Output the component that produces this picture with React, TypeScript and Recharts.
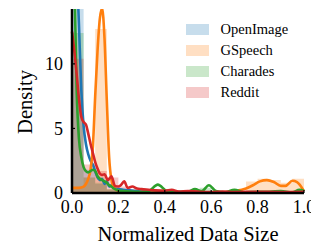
import React from "react";
import { ComposedChart, Area, Line, XAxis, YAxis } from "recharts";

// histogram bins, width 0.05, from 0.0 to 1.0
const binStarts = [0, 0.05, 0.1, 0.15, 0.2, 0.25, 0.3, 0.35, 0.4, 0.45, 0.5, 0.55, 0.6, 0.65, 0.7, 0.75, 0.8, 0.85, 0.9, 0.95];
const openImageBins = [18, 1.8, 0.7, 0.25, 0.15, 0.1, 0.08, 0.06, 0.05, 0.05, 0.05, 0.05, 0.04, 0.04, 0.04, 0.04, 0.04, 0.04, 0.04, 0.04];
const gspeechBins = [0.4, 1.2, 12.7, 0.3, 0.03, 0.03, 0.03, 0.03, 0.03, 0.03, 0.03, 0.03, 0.03, 0.03, 0.1, 0.9, 1.1, 1.0, 0.8, 1.1];
const charadesBins = [12.4, 1.2, 0.8, 0.3, 0.1, 0.1, 0.1, 0.3, 0.1, 0.1, 0.1, 0.4, 0.2, 0.1, 0.1, 0.1, 0.1, 0.1, 0.1, 0.15];
const redditBins = [10.4, 2.2, 1.7, 1.2, 0.5, 0.3, 0.2, 0.2, 0.15, 0.15, 0.1, 0.1, 0.1, 0.1, 0.1, 0.1, 0.1, 0.1, 0.1, 0.1];

// kde curves
const openImageX = [0, 0.01, 0.02, 0.03, 0.04, 0.05, 0.06, 0.07, 0.08, 0.09, 0.1, 0.11, 0.12, 0.13, 0.14, 0.15, 0.16, 0.17, 0.18, 0.2, 0.22, 0.25, 0.3, 0.35, 0.4, 0.5, 0.6, 0.7, 0.8, 0.9, 1.0];
const openImageKde = [30, 24, 18, 13, 8, 5.2, 3.8, 3.0, 2.5, 2.2, 1.7, 1.2, 1.0, 1.1, 0.7, 0.9, 0.5, 0.6, 0.4, 0.3, 0.25, 0.2, 0.12, 0.1, 0.08, 0.06, 0.05, 0.05, 0.05, 0.04, 0.04];

const gspeechX = [0, 0.03, 0.05, 0.06, 0.07, 0.08, 0.09, 0.1, 0.11, 0.12, 0.13, 0.14, 0.15, 0.16, 0.17, 0.18, 0.2, 0.25, 0.3, 0.4, 0.5, 0.6, 0.65, 0.7, 0.75, 0.78, 0.81, 0.84, 0.87, 0.9, 0.92, 0.95, 0.97, 1.0];
const gspeechKde = [0.4, 0.4, 0.5, 0.7, 1.1, 1.8, 3.6, 7.5, 11, 13.5, 14.3, 12.0, 7.2, 2.8, 1.0, 0.45, 0.15, 0.05, 0.03, 0.03, 0.03, 0.03, 0.05, 0.15, 0.35, 0.6, 0.9, 1.0, 0.85, 0.55, 0.55, 0.95, 0.85, 0.15];

const charadesX = [0, 0.01, 0.02, 0.03, 0.04, 0.05, 0.06, 0.07, 0.08, 0.09, 0.1, 0.11, 0.12, 0.13, 0.14, 0.15, 0.16, 0.17, 0.18, 0.2, 0.25, 0.3, 0.33, 0.37, 0.41, 0.45, 0.5, 0.53, 0.56, 0.59, 0.62, 0.66, 0.7, 0.74, 0.8, 0.85, 0.9, 0.95, 0.98, 1.0];
const charadesKde = [24, 17, 8, 4.2, 2.8, 2.0, 1.7, 1.6, 1.7, 1.8, 1.7, 1.3, 1.1, 1.0, 0.9, 0.8, 0.6, 0.5, 0.35, 0.2, 0.12, 0.1, 0.15, 0.65, 0.15, 0.1, 0.1, 0.3, 0.15, 0.6, 0.15, 0.05, 0.25, 0.05, 0.1, 0.1, 0.15, 0.05, 0.25, 0.15];

const redditX = [0, 0.01, 0.02, 0.03, 0.04, 0.05, 0.06, 0.07, 0.08, 0.09, 0.1, 0.11, 0.12, 0.13, 0.14, 0.155, 0.17, 0.185, 0.2, 0.21, 0.225, 0.24, 0.26, 0.28, 0.3, 0.33, 0.36, 0.4, 0.43, 0.46, 0.5, 0.55, 0.6, 0.65, 0.7, 0.8, 0.9, 1.0];
const redditKde = [12.5, 11, 9.2, 7.3, 5.9, 5.5, 5.3, 4.6, 3.8, 3.1, 2.4, 1.9, 1.5, 1.4, 1.45, 1.0, 1.3, 0.55, 0.5, 0.6, 0.9, 0.4, 0.5, 0.35, 0.3, 0.25, 0.2, 0.18, 0.25, 0.12, 0.15, 0.1, 0.08, 0.12, 0.08, 0.1, 0.08, 0.1];

const xTicks = [0, 0.2, 0.4, 0.6, 0.8, 1.0];
const yTicks = [0, 5, 10];

const series = [
  { name: "OpenImage", color: "#1f77b4", bins: openImageBins, xs: openImageX, kde: openImageKde },
  { name: "GSpeech", color: "#ff7f0e", bins: gspeechBins, xs: gspeechX, kde: gspeechKde },
  { name: "Charades", color: "#2ca02c", bins: charadesBins, xs: charadesX, kde: charadesKde },
  { name: "Reddit", color: "#d62728", bins: redditBins, xs: redditX, kde: redditKde },
];

const font = "Liberation Serif, DejaVu Serif, serif";

const histData = (bins: number[]) => [
  ...binStarts.map((x, i) => ({ x, y: bins[i] })),
  { x: 1.0, y: bins[bins.length - 1] },
];
const kdeData = (xs: number[], ys: number[]) => xs.map((x, i) => ({ x, y: ys[i] }));

export default function App() {
  return (
    <div style={{ position: "relative", width: 311, height: 236, fontFamily: font }}>
      <ComposedChart width={311} height={236} margin={{ top: 1, right: 15, bottom: 1, left: 0 }} style={{ fontFamily: font }}>
        <XAxis
          type="number"
          dataKey="x"
          domain={[0, 1]}
          ticks={xTicks}
          tickFormatter={(v: number) => v.toFixed(1)}
          height={50}
          tickSize={-3}
          tickMargin={10}
          tick={{ fill: "#000", fontSize: 18, fontFamily: font }}
          axisLine={{ stroke: "#000", strokeWidth: 2.5 }}
          tickLine={{ stroke: "#000", strokeWidth: 1.2 }}
          label={{
            content: () => (
              <text x={180} y={226} textAnchor="middle" dominantBaseline="central" fontSize={20.5} style={{ fontFamily: font }} fill="#000">
                Normalized Data Size
              </text>
            ),
          }}
        />
        <YAxis
          type="number"
          domain={[0, 14.25]}
          allowDataOverflow
          ticks={yTicks}
          width={64}
          tickSize={-3}
          tickMargin={12}
          tick={{ fill: "#000", fontSize: 18, fontFamily: font }}
          axisLine={{ stroke: "#000", strokeWidth: 2.5 }}
          tickLine={{ stroke: "#000", strokeWidth: 1.2 }}
          label={{
            content: () => (
              <text x={17} y={94} transform="rotate(-90 17 94)" textAnchor="middle" dominantBaseline="central" fontSize={20.5} style={{ fontFamily: font }} fill="#000">
                Density
              </text>
            ),
          }}
        />
        {series.map((s) => (
          <Area
            key={s.name + "-hist"}
            data={histData(s.bins)}
            dataKey="y"
            type="stepAfter"
            stroke="none"
            fill={s.color}
            fillOpacity={0.25}
            isAnimationActive={false}
          />
        ))}
        {series.map((s) => (
          <Line
            key={s.name + "-kde"}
            data={kdeData(s.xs, s.kde)}
            dataKey="y"
            type="monotone"
            stroke={s.color}
            strokeWidth={2.6}
            dot={false}
            activeDot={false}
            isAnimationActive={false}
          />
        ))}
      </ComposedChart>
      <div style={{ position: "absolute", left: 178, top: 11 }}>
        {series.map((s) => (
          <div key={s.name} style={{ display: "flex", alignItems: "center", height: 21 }}>
            <div style={{ width: 23, height: 11, background: s.color, opacity: 0.25 }} />
            <span style={{ marginLeft: 11.5, fontSize: 14.5, color: "#000", lineHeight: "21px" }}>{s.name}</span>
          </div>
        ))}
      </div>
    </div>
  );
}
